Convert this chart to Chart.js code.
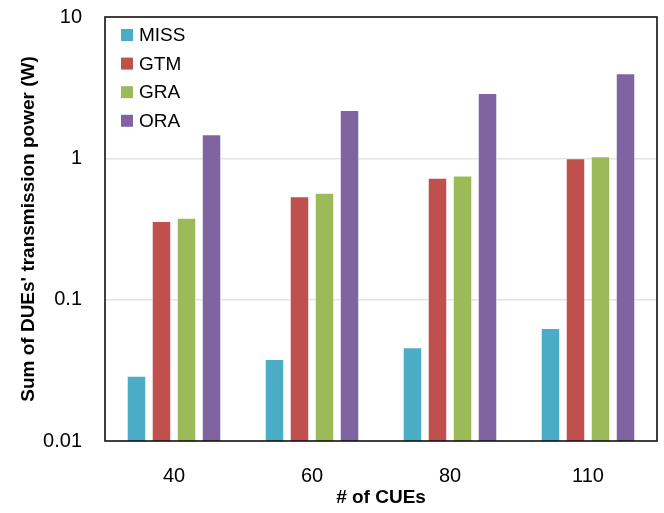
<!DOCTYPE html>
<html>
<head>
<meta charset="utf-8">
<script src="https://cdn.jsdelivr.net/npm/chart.js@4"></script>
<style>
  html, body { margin: 0; padding: 0; background: #fff; }
  #wrap { width: 664px; height: 513px; }
</style>
</head>
<body>
<div id="wrap"><canvas id="powerChart"></canvas></div>
<script>
// ─── Data ───────────────────────────────────────────────────────────────────
const cueCounts  = ['40', '60', '80', '110'];
const missPower  = [0.029, 0.038, 0.046, 0.063];
const gtmPower   = [0.36, 0.54, 0.73, 1.0];
const graPower   = [0.38, 0.57, 0.755, 1.035];
const oraPower   = [1.48, 2.2, 2.9, 4.0];
const yTickVals  = [0.01, 0.1, 1, 10];

const FONT = "'Liberation Sans', Arial, sans-serif";

// Legend drawn inside the plot, top-left, stacked
const insideLegend = {
  id: 'insideLegend',
  afterDatasetsDraw(chart) {
    const { ctx, chartArea } = chart;
    ctx.save();
    ctx.font = `19px ${FONT}`;
    ctx.textBaseline = 'middle';
    chart.data.datasets.forEach((ds, i) => {
      const y = chartArea.top + 18 + i * 28.6;
      ctx.fillStyle = ds.backgroundColor;
      ctx.fillRect(chartArea.left + 16, y - 6, 12, 12);
      ctx.fillStyle = '#000';
      ctx.fillText(ds.label, chartArea.left + 34, y + 1);
    });
    ctx.restore();
  },
};

// Black frame around the plot area
const plotFrame = {
  id: 'plotFrame',
  afterDraw(chart) {
    const { ctx, chartArea: a } = chart;
    ctx.save();
    ctx.strokeStyle = '#111';
    ctx.lineWidth = 1.6;
    ctx.strokeRect(a.left, a.top, a.right - a.left, a.bottom - a.top);
    ctx.restore();
  },
};

function series(label, data, color) {
  return {
    label,
    data,
    backgroundColor: color,
    borderColor: 'rgba(255,255,255,0.55)',
    borderWidth: 1,
    borderSkipped: 'bottom',
    barPercentage: 0.78,
    categoryPercentage: 0.725,
  };
}

new Chart(document.getElementById('powerChart'), {
  type: 'bar',
  data: {
    labels: cueCounts,
    datasets: [
      series('MISS', missPower, '#4bacc6'),
      series('GTM',  gtmPower,  '#c0504d'),
      series('GRA',  graPower,  '#9bbb59'),
      series('ORA',  oraPower,  '#8064a2'),
    ],
  },
  options: {
    responsive: true,
    maintainAspectRatio: false,
    animation: false,
    layout: { padding: { top: 0, right: 7, left: 17, bottom: 0 } },
    plugins: {
      legend:  { display: false },
      tooltip: { enabled: false },
    },
    scales: {
      x: {
        grid:   { display: false, drawTicks: false },
        border: { display: false },
        ticks:  { color: '#000', font: { family: FONT, size: 20 }, padding: 23 },
        title:  {
          display: true,
          text: '# of CUEs',
          color: '#000',
          font: { family: FONT, size: 19, weight: 'bold' },
          padding: { top: 0, bottom: 4 },
        },
        afterFit(scale) { scale.height = 72; },
      },
      y: {
        type: 'logarithmic',
        min: 0.01,
        max: 10,
        afterBuildTicks(scale) {
          scale.ticks = yTickVals.map(v => ({ value: v }));
        },
        grid: {
          drawTicks: false,
          lineWidth: 1.5,
          color: c => (c.tick && (c.tick.value === 0.1 || c.tick.value === 1)) ? '#e4e4e4' : 'rgba(0,0,0,0)',
        },
        border: { display: false },
        ticks: {
          color: '#000',
          font: { family: FONT, size: 20 },
          padding: 23,
          callback: v => String(v),
        },
        title: {
          display: true,
          text: "Sum of DUEs' transmission power (W)",
          color: '#000',
          font: { family: FONT, size: 19, weight: 'bold' },
          padding: { top: 0, bottom: 6 },
        },
        afterFit(scale) {
          scale.width = 88;
          scale.paddingTop = 17;
          scale.paddingBottom = 0;
        },
      },
    },
  },
  plugins: [insideLegend, plotFrame],
});
</script>
</body>
</html>
